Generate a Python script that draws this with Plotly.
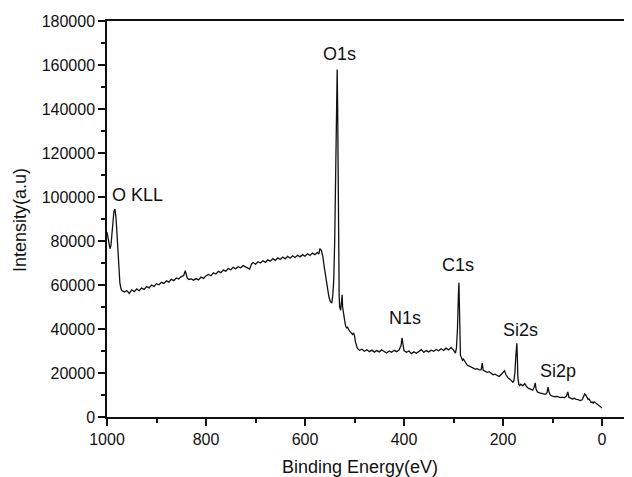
import plotly.graph_objects as go

# XPS survey spectrum
binding_energy = [
    1000, 998, 996, 994, 992, 990, 988, 986, 984, 982, 980, 978, 976, 974, 972, 970,
    965, 960, 955, 950, 945, 940, 935, 930, 925, 920, 915, 910, 905, 900, 895, 890,
    885, 880, 875, 870, 865, 860, 855, 850, 845, 842, 840, 838, 835, 830, 825, 820,
    815, 810, 805, 800, 795, 790, 785, 780, 775, 770, 765, 760, 755, 750, 745, 740,
    735, 730, 725, 720, 715, 712, 708, 705, 700, 695, 690, 685, 680, 675, 670, 665,
    660, 655, 650, 645, 640, 635, 630, 625, 620, 615, 610, 605, 600, 595, 590, 585,
    580, 575, 572, 570, 567, 564, 561, 558, 555, 552, 549, 546, 544, 542, 540, 538,
    536, 535, 534, 533, 532, 531, 530, 528, 526, 525, 524, 522, 520, 518, 516, 514,
    512, 510, 508, 506, 504, 502, 500, 498, 496, 494, 490, 485, 480, 475, 470, 465,
    460, 455, 450, 445, 440, 435, 430, 425, 420, 415, 410, 406, 404, 402, 400, 395,
    390, 385, 380, 375, 370, 365, 360, 355, 350, 345, 340, 335, 330, 325, 320, 315,
    310, 305, 300, 296, 294, 292, 290, 289, 288, 287, 286, 284, 282, 280, 276, 272,
    268, 264, 260, 256, 252, 248, 244, 242, 240, 236, 232, 228, 224, 220, 216, 212,
    208, 204, 200, 197, 194, 190, 186, 182, 180, 178, 176, 174, 172, 171, 170, 168,
    166, 164, 160, 156, 152, 148, 144, 140, 137, 135, 133, 130, 126, 122, 118, 114,
    111, 109, 107, 104, 100, 95, 90, 85, 80, 76, 72, 69, 67, 64, 60, 56,
    52, 48, 44, 40, 37, 35, 33, 31, 28, 26, 24, 22, 20, 18, 16, 14,
    10, 6, 3, 0,
]
intensity = [
    84000, 82000, 79000, 76500, 78000, 84000, 90000, 93500, 94500, 91000, 84000, 75000, 67000, 61000, 58500, 57500,
    56800, 57500, 56200, 57800, 57000, 58200, 57400, 58600, 58000, 59300, 58700, 60000, 59400, 60600, 60100, 61200,
    60700, 61900, 61300, 62600, 62000, 63200, 62700, 63800, 64300, 66500, 65000, 63200, 62500, 62800, 62200, 62900,
    62300, 63600, 63000, 64200, 64800, 64200, 65500, 65000, 66200, 65600, 66800, 66300, 67500, 66900, 68000, 67400,
    68300, 67800, 68800, 68200, 67500, 67200, 69500, 70200, 69500, 70600, 70000, 71000, 70300, 71400, 70800, 72000,
    71200, 72300, 71600, 72700, 71900, 73000, 72200, 73300, 72500, 73500, 72800, 73800, 73100, 74200, 73400, 74500,
    73800, 74800, 74000, 76500, 75800, 73000, 68000, 63000, 58500, 55000, 52500, 51800, 55000, 62000, 80000, 120000,
    152000, 158000, 140000, 100000, 70000, 55000, 50000, 48500, 53000, 55500, 50000, 46000, 44000, 41500, 40500, 40800,
    39700, 39000, 38600, 38000, 37500, 38200, 37000, 34000, 32000, 31200, 30300, 30800, 29900, 30600, 29700, 30400,
    29500, 30200, 29600, 30500, 29800, 29100, 30000, 29400, 30300, 29700, 30400, 32500, 36000, 33000, 30200, 29400,
    30000, 28800, 29600, 29000, 29800, 30600, 29400, 30200, 29600, 30400, 29900, 30700, 30100, 31000, 30300, 31300,
    30500, 31600, 30400, 29000, 31500, 40000, 56000, 61000, 50000, 35000, 28000, 27000, 25800, 26300, 24800, 23500,
    23100, 22700, 22200, 21800, 22000, 21400, 21500, 24500, 21200, 20800, 20300, 20600, 19900, 19200, 19500, 18800,
    18400, 19200, 20400, 21000, 19200, 17800, 17200, 16200, 15800, 16500, 20000, 28000, 33500, 27000, 18000, 14800,
    14300, 14900, 14200, 15200, 13700, 13000, 12600, 12200, 13500, 15500, 12500, 11300, 11000, 10700, 10500, 10300,
    11200, 13600, 11200, 9900, 9500, 9200, 9400, 8800, 9000, 8700, 9500, 11400, 9000, 8600, 8200, 8500,
    8000, 7900, 7500, 7800, 9600, 10500, 10000, 9000, 8000, 8200, 7300, 6600, 6800, 6300, 7000, 6600,
    5800, 5200, 4600, 4100,
]

peak_labels = ["O KLL", "O1s", "N1s", "C1s", "Si2s", "Si2p"]
peak_label_x = [938, 530, 399, 290, 165, 88]
peak_label_y = [101100, 165200, 45200, 69100, 39500, 20900]

FONT = "Liberation Sans, Arial, sans-serif"
INK = "#111111"

fig = go.Figure()
fig.add_trace(
    go.Scatter(
        x=binding_energy,
        y=intensity,
        mode="lines",
        line=dict(color=INK, width=1.3),
        showlegend=False,
    )
)

for txt, lx, ly in zip(peak_labels, peak_label_x, peak_label_y):
    fig.add_annotation(
        x=lx, y=ly, text=txt, showarrow=False,
        font=dict(family=FONT, size=18, color=INK),
        xanchor="center", yanchor="middle",
    )

# axis titles placed by hand (page has an 8px body margin)
fig.add_annotation(
    xref="paper", yref="paper", x=0.482, y=-0.125, text="Binding Energy(eV)",
    showarrow=False, font=dict(family=FONT, size=18, color=INK),
    xanchor="center", yanchor="middle",
)
fig.add_annotation(
    xref="paper", yref="paper", x=-0.166, y=0.497, text="Intensity(a.u)",
    textangle=-90, showarrow=False, font=dict(family=FONT, size=18, color=INK),
    xanchor="center", yanchor="middle",
)

axis_common = dict(
    showline=True,
    linecolor=INK,
    linewidth=1.5,
    ticks="outside",
    ticklen=7,
    tickwidth=1.5,
    tickcolor=INK,
    showgrid=False,
    zeroline=False,
    tickfont=dict(family=FONT, size=16, color=INK),
)

fig.update_xaxes(
    **axis_common,
    range=[1000, -60.6],
    tickvals=[1000, 800, 600, 400, 200, 0],
    mirror=True,
    minor=dict(ticks="outside", ticklen=4, tickwidth=1.5, tickcolor=INK,
               tickvals=[900, 700, 500, 300, 100]),
)
fig.update_yaxes(
    **axis_common,
    range=[0, 180000],
    dtick=20000,
    tickformat="d",
    minor=dict(ticks="outside", ticklen=4, tickwidth=1.5, tickcolor=INK, dtick=10000),
)

fig.update_layout(
    width=624,
    height=469,
    margin=dict(l=99, r=0, t=13, b=60),
    plot_bgcolor="white",
    paper_bgcolor="white",
)

fig.write_html("out.html")
